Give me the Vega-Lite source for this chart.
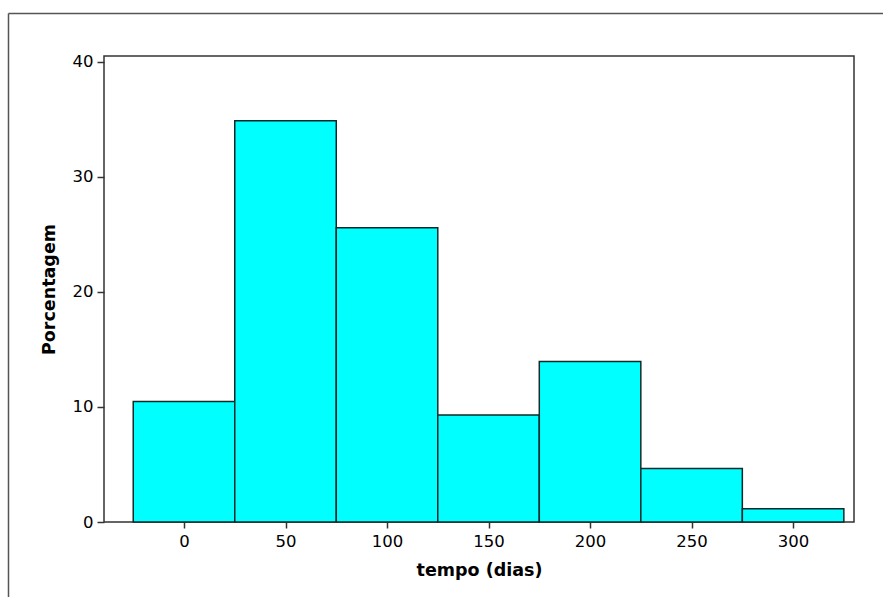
{
  "$schema": "https://vega.github.io/schema/vega-lite/v6.json",
  "width": 750,
  "height": 466,
  "autosize": {"type": "none"},
  "padding": {"left": 104, "top": 56, "right": 29, "bottom": 75},
  "background": "white",
  "config": {
    "view": {"stroke": "#333333", "strokeWidth": 1.5},
    "font": "DejaVu Sans",
    "axis": {"labelFont": "DejaVu Sans", "titleFont": "DejaVu Sans", "labelColor": "black", "titleColor": "black", "tickColor": "#333333", "grid": false}
  },
  "data": {"values": [
    {"start": -25, "end": 25, "pct": 10.47},
    {"start": 25, "end": 75, "pct": 34.88},
    {"start": 75, "end": 125, "pct": 25.58},
    {"start": 125, "end": 175, "pct": 9.30},
    {"start": 175, "end": 225, "pct": 13.95},
    {"start": 225, "end": 275, "pct": 4.65},
    {"start": 275, "end": 325, "pct": 1.16}
  ]},
  "layer": [
    {
      "mark": {"type": "rect", "fill": "#00FFFF", "stroke": "#0f2a2a", "strokeWidth": 1.5},
      "encoding": {
        "x": {"field": "start", "type": "quantitative",
          "scale": {"domain": [-39.4, 330], "nice": false, "zero": false},
          "axis": {"values": [0, 50, 100, 150, 200, 250, 300], "title": "tempo (dias)", "titleFontWeight": "bold", "titleFontSize": 17.5, "labelFontSize": 16.5, "labelFontWeight": "normal", "tickSize": 6, "tickWidth": 1.5, "domain": false, "labelPadding": 5, "titlePadding": 12, "labelFlush": false}},
        "x2": {"field": "end"},
        "y": {"field": "pct", "type": "quantitative",
          "scale": {"domain": [0, 40.5], "nice": false},
          "axis": {"values": [0, 10, 20, 30, 40], "title": "Porcentagem", "titleFontWeight": "bold", "titleFontSize": 17.5, "labelFontSize": 16.5, "tickSize": 7, "tickWidth": 1.5, "domain": false, "labelPadding": 4, "titlePadding": 14, "labelFlush": false}},
        "y2": {"datum": 0}
      }
    },
    {
      "mark": {"type": "point", "opacity": 0},
      "encoding": {
        "x": {"datum": 0, "type": "quantitative",
          "scale": {"domain": [0, 1], "range": [-96, 800], "nice": false, "zero": false},
          "axis": {"orient": "top", "offset": 43, "domainColor": "#555555", "domainWidth": 1.5, "ticks": false, "labels": false, "title": null, "grid": false}},
        "y": {"datum": 0, "type": "quantitative",
          "scale": {"domain": [0, 1], "range": [560, -43], "nice": false, "zero": false},
          "axis": {"orient": "left", "offset": 96, "domainColor": "#555555", "domainWidth": 1.5, "ticks": false, "labels": false, "title": null, "grid": false}}
      }
    }
  ],
  "resolve": {"scale": {"x": "independent", "y": "independent"}, "axis": {"x": "independent", "y": "independent"}}
}
